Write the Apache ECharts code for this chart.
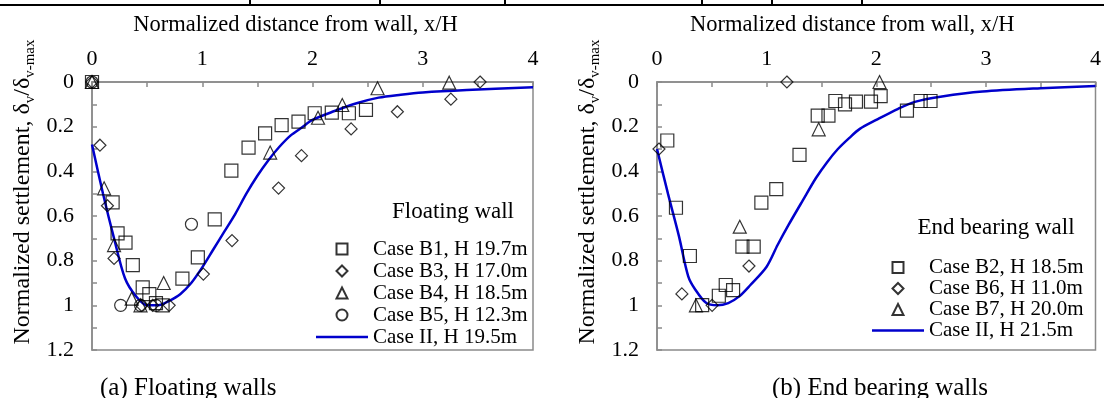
<!DOCTYPE html>
<html>
<head>
<meta charset="utf-8">
<script src="https://cdn.jsdelivr.net/npm/echarts@6/dist/echarts.min.js"></script>
<style>
html,body{margin:0;padding:0;background:#fff;}
#c{width:1104px;height:398px;}
</style>
</head>
<body>
<div id="c"></div>
<script>
// ---------- data ----------
const xTickLabels = ['0', '1', '2', '3', '4'];
const yTickLabels = ['0', '0.2', '0.4', '0.6', '0.8', '1', '1.2'];

// (a) Floating walls  [x/H, δv/δv-max]
const caseB1 = [[0,0],[0.187,0.539],[0.232,0.678],[0.304,0.719],[0.37,0.82],[0.46,0.92],[0.52,0.95],[0.58,0.99],[0.64,1.0],[0.82,0.88],[0.96,0.785],[1.113,0.615],[1.264,0.397],[1.42,0.294],[1.57,0.23],[1.72,0.193],[1.873,0.177],[2.02,0.14],[2.175,0.137],[2.33,0.14],[2.485,0.125]];
const caseB3 = [[0,0],[0.072,0.283],[0.14,0.554],[0.2,0.79],[0.45,1.0],[0.55,1.0],[0.7,1.0],[1.01,0.86],[1.27,0.71],[1.692,0.475],[1.90,0.33],[2.35,0.21],[2.77,0.133],[3.255,0.077],[3.52,0]];
const caseB4 = [[0,0],[0.11,0.476],[0.2,0.73],[0.36,0.97],[0.44,1.0],[0.65,0.9],[1.616,0.316],[2.05,0.16],[2.27,0.103],[2.59,0.028],[3.24,0.003]];
const caseB5 = [[0,0],[0.26,1.0],[0.44,1.0],[0.58,1.0],[0.902,0.637]];
const caseIIa = [[0,0.28],[0.1,0.5],[0.2,0.7],[0.3,0.88],[0.4,0.96],[0.5,1.0],[0.6,1.0],[0.7,0.98],[0.8,0.95],[0.9,0.9],[1.0,0.83],[1.1,0.75],[1.2,0.67],[1.3,0.59],[1.4,0.5],[1.5,0.42],[1.6,0.35],[1.7,0.29],[1.8,0.24],[1.9,0.205],[2.0,0.17],[2.2,0.13],[2.4,0.095],[2.6,0.07],[2.8,0.057],[3.0,0.047],[3.4,0.036],[4,0.024]];

// (b) End bearing walls
const caseB2 = [[0.094,0.262],[0.173,0.563],[0.30,0.779],[0.412,0.999],[0.564,0.957],[0.627,0.909],[0.694,0.932],[0.779,0.737],[0.882,0.737],[0.952,0.54],[1.088,0.48],[1.30,0.326],[1.466,0.151],[1.564,0.151],[1.627,0.085],[1.715,0.10],[1.815,0.088],[1.952,0.088],[2.04,0.063],[2.28,0.128],[2.405,0.085],[2.495,0.085]];
const caseB6 = [[0.018,0.30],[0.227,0.949],[0.503,1.0],[0.839,0.824],[1.185,0]];
const caseB7 = [[0.355,1.0],[0.755,0.648],[1.475,0.212],[2.03,0.0]];
const caseIIb = [[0,0.30],[0.1,0.5],[0.2,0.69],[0.285,0.87],[0.35,0.93],[0.45,0.99],[0.55,1.0],[0.65,0.99],[0.75,0.96],[0.85,0.91],[1.0,0.827],[1.1,0.73],[1.2,0.64],[1.33,0.53],[1.45,0.43],[1.55,0.36],[1.65,0.30],[1.755,0.25],[1.85,0.21],[2.0,0.17],[2.2,0.12],[2.36,0.088],[2.6,0.065],[2.97,0.043],[3.5,0.028],[4,0.018]];

// ---------- styles ----------
const FONT = 'Liberation Serif';
const BLUE = '#0000CC';
const AX = '#8a8a8a';
const ICON = {
  rect: 'path://M0,0L10,0L10,10L0,10Z',
  diamond: 'path://M5,0L10,5L5,10L0,5Z',
  triangle: 'path://M5,0L10,10L0,10Z',
  circle: 'circle',
  line: 'path://M0,0L52,0L52,2.5L0,2.5Z'
};

function xAxisCfg(gi, padRight) {
  return {
    type: 'value', gridIndex: gi, position: 'top', min: 0, max: 4, interval: 0.5,
    name: 'Normalized distance from wall, x/H', nameLocation: 'middle', nameGap: 45,
    nameTextStyle: {fontFamily: FONT, fontSize: 22.5, color: '#000', padding: [0, padRight, 0, 0]},
    axisLine: {show: true, lineStyle: {color: AX, width: 1.5}},
    axisTick: {show: true, inside: true, length: 5, lineStyle: {color: AX, width: 1.5}},
    axisLabel: {
      fontFamily: FONT, fontSize: 22, color: '#000', margin: 12,
      formatter: v => { const i = Math.round(v * 2); return i % 2 === 0 ? xTickLabels[i / 2] : ''; }
    },
    splitLine: {show: false}
  };
}
function yAxisCfg(gi) {
  return {
    type: 'value', gridIndex: gi, inverse: true, min: 0, max: 1.2, interval: 0.1,
    name: '{t|Normalized settlement, δ}{s|v}{t|/δ}{s|v-max}',
    nameLocation: 'middle', nameGap: 54, nameRotate: 90,
    nameTextStyle: {
      padding: [0, 0, 0, 48],
      rich: {
        t: {fontFamily: FONT, fontSize: 24, color: '#000', lineHeight: 30},
        s: {fontFamily: FONT, fontSize: 15, color: '#000', lineHeight: 30, verticalAlign: 'bottom'}
      }
    },
    axisLine: {show: true, lineStyle: {color: AX, width: 1.5}},
    axisTick: {show: true, inside: true, length: 5, lineStyle: {color: AX, width: 1.5}},
    axisLabel: {
      fontFamily: FONT, fontSize: 22, color: '#000', margin: 18,
      formatter: v => { const i = Math.round(v * 10); return i % 2 === 0 ? yTickLabels[i / 2] : ''; }
    },
    splitLine: {show: false}
  };
}
function scat(name, data, sym, size, xi) {
  return {
    type: 'scatter', name: name, data: data, xAxisIndex: xi, yAxisIndex: xi,
    symbol: sym, symbolSize: size,
    itemStyle: {color: 'rgba(0,0,0,0)', borderColor: '#000', borderWidth: 1.2},
    emphasis: {disabled: true}, z: 3
  };
}
function curve(name, data, xi) {
  return {
    type: 'line', name: name, data: data, xAxisIndex: xi, yAxisIndex: xi,
    symbol: 'none', smooth: 0.3,
    lineStyle: {color: BLUE, width: 2.5}, itemStyle: {color: BLUE}, z: 2
  };
}
function legendCfg(left, top, items, lh) {
  return {
    orient: 'vertical', left: left, top: top, itemWidth: 52, itemHeight: 11, itemGap: 0,
    padding: 0, selectedMode: false,
    data: items.map(it => ({name: it[0], icon: ICON[it[1]]})),
    textStyle: {fontFamily: FONT, fontSize: 21, color: '#000', lineHeight: lh}
  };
}

const chart = echarts.init(document.getElementById('c'), null, {renderer: 'canvas'});
chart.setOption({
  animation: false,
  backgroundColor: '#fff',
  grid: [
    {left: 92, top: 82, width: 441, height: 268, show: true, borderColor: AX, borderWidth: 1.5, backgroundColor: 'rgba(0,0,0,0)'},
    {left: 657, top: 82, width: 440, height: 268, show: true, borderColor: AX, borderWidth: 1.5, backgroundColor: 'rgba(0,0,0,0)'}
  ],
  xAxis: [xAxisCfg(0, 34), xAxisCfg(1, 48)],
  yAxis: [yAxisCfg(0), yAxisCfg(1)],
  legend: [
    legendCfg(316, 238, [['Case B1, H 19.7m','rect'], ['Case B3, H 17.0m','diamond'], ['Case B4, H 18.5m','triangle'], ['Case B5, H 12.3m','circle'], ['Case II, H 19.5m','line']], 22),
    legendCfg(872, 257, [['Case B2, H 18.5m','rect'], ['Case B6, H 11.0m','diamond'], ['Case B7, H 20.0m','triangle'], ['Case II, H 21.5m','line']], 20)
  ],
  graphic: [
    {type: 'line', shape: {x1: 0, y1: 5, x2: 1104, y2: 5}, style: {stroke: '#000', lineWidth: 2}},
    {type: 'line', shape: {x1: 250, y1: 0, x2: 250, y2: 5}, style: {stroke: '#000', lineWidth: 2}},
    {type: 'line', shape: {x1: 380, y1: 0, x2: 380, y2: 5}, style: {stroke: '#000', lineWidth: 2}},
    {type: 'line', shape: {x1: 505, y1: 0, x2: 505, y2: 5}, style: {stroke: '#000', lineWidth: 2}},
    {type: 'line', shape: {x1: 702, y1: 0, x2: 702, y2: 5}, style: {stroke: '#000', lineWidth: 2}},
    {type: 'line', shape: {x1: 772, y1: 0, x2: 772, y2: 5}, style: {stroke: '#000', lineWidth: 2}},
    {type: 'line', shape: {x1: 862, y1: 0, x2: 862, y2: 5}, style: {stroke: '#000', lineWidth: 2}},
    {type: 'text', x: 453, y: 212, style: {text: 'Floating wall', font: '23px "Liberation Serif"', fill: '#000', align: 'center', verticalAlign: 'middle'}},
    {type: 'text', x: 996, y: 228, style: {text: 'End bearing wall', font: '23px "Liberation Serif"', fill: '#000', align: 'center', verticalAlign: 'middle'}},
    {type: 'text', x: 100, y: 388, style: {text: '(a) Floating walls', font: '25px "Liberation Serif"', fill: '#000', align: 'left', verticalAlign: 'middle'}},
    {type: 'text', x: 772, y: 388, style: {text: '(b) End bearing walls', font: '25px "Liberation Serif"', fill: '#000', align: 'left', verticalAlign: 'middle'}}
  ],
  series: [
    scat('Case B1, H 19.7m', caseB1, 'rect', 13, 0),
    scat('Case B3, H 17.0m', caseB3, 'diamond', 12, 0),
    scat('Case B4, H 18.5m', caseB4, 'triangle', 13, 0),
    scat('Case B5, H 12.3m', caseB5, 'circle', 12, 0),
    curve('Case II, H 19.5m', caseIIa, 0),
    scat('Case B2, H 18.5m', caseB2, 'rect', 13, 1),
    scat('Case B6, H 11.0m', caseB6, 'diamond', 12, 1),
    scat('Case B7, H 20.0m', caseB7, 'triangle', 13, 1),
    curve('Case II, H 21.5m', caseIIb, 1)
  ]
});
</script>
</body>
</html>
